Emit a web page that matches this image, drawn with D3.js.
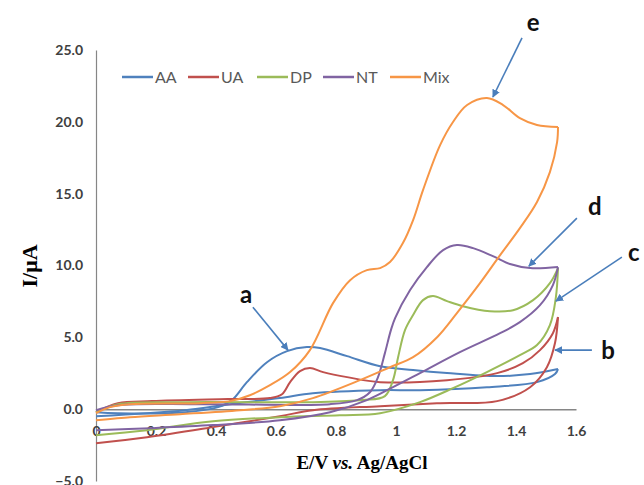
<!DOCTYPE html>
<html>
<head>
<meta charset="utf-8">
<script src="https://cdn.jsdelivr.net/npm/d3@7"></script>
<style>
  body { margin: 0; background: #fff; }
  svg { display: block; }
</style>
</head>
<body>
<script>
"use strict";
// potential E (V) / current I (uA), forward and reverse sweeps
const aaFwd = [[0,-0.21],[0.073,-0.28],[0.297,-0.21],[0.407,0.14],[0.453,0.63],[0.503,1.88],[0.57,3.27],[0.637,4.04],[0.703,4.32],[0.747,4.25],[0.837,3.69],[0.947,2.99],[1.057,2.72],[1.17,2.51],[1.337,2.30],[1.447,2.44],[1.54,2.79]];
const aaRev = [[1.54,2.79],[1.53,2.44],[1.47,1.88],[1.303,1.53],[1.08,1.32],[0.947,1.32],[0.723,1.11],[0.613,0.77],[0.447,0.35],[0.297,-0.07],[0,-0.49]];
const uaFwd = [[0,-0.21],[0.073,0.42],[0.187,0.56],[0.44,0.70],[0.58,0.77],[0.62,1.04],[0.647,1.88],[0.68,2.65],[0.713,2.86],[0.757,2.58],[0.837,2.23],[0.947,1.88],[1.17,2.02],[1.337,2.51],[1.423,3.20],[1.48,4.11],[1.523,5.29],[1.54,6.41]];
const uaRev = [[1.54,6.41],[1.53,4.60],[1.503,2.92],[1.447,1.53],[1.337,0.56],[1.147,0.42],[0.947,0.21],[0.723,-0.07],[0.613,-0.49],[0.39,-1.25],[0.17,-1.95],[0,-2.37]];
const dpFwd = [[0,-0.21],[0.073,0.35],[0.297,0.49],[0.723,0.49],[0.89,0.63],[0.963,0.91],[0.99,2.02],[1.007,3.62],[1.03,5.50],[1.057,6.55],[1.09,7.59],[1.123,7.87],[1.17,7.52],[1.223,7.17],[1.313,6.82],[1.39,6.89],[1.457,7.59],[1.513,8.77],[1.54,9.82]];
const dpRev = [[1.54,9.82],[1.533,7.80],[1.513,5.85],[1.47,4.46],[1.413,3.76],[1.303,2.58],[1.19,1.46],[1.08,0.49],[0.947,-0.28],[0.813,-0.42],[0.613,-0.56],[0.39,-0.84],[0.17,-1.46],[0,-1.81]];
const ntFwd = [[0,-0.07],[0.073,0.28],[0.347,0.35],[0.78,0.35],[0.87,0.63],[0.913,1.18],[0.94,2.23],[0.963,3.90],[0.983,5.50],[0.997,6.34],[1.047,8.29],[1.103,9.89],[1.157,11.07],[1.203,11.42],[1.257,11.21],[1.323,10.65],[1.38,10.10],[1.447,9.82],[1.54,9.89]];
const ntRev = [[1.54,9.89],[1.523,8.64],[1.48,7.24],[1.413,6.06],[1.347,5.29],[1.213,3.97],[1.08,2.51],[0.99,1.53],[0.903,0.63],[0.78,-0.21],[0.613,-0.77],[0.39,-1.11],[0.18,-1.32],[0,-1.46]];
const mixFwd = [[0,-0.28],[0.047,0.14],[0.113,0.35],[0.347,0.42],[0.447,0.56],[0.513,0.97],[0.58,1.67],[0.647,2.58],[0.713,4.11],[0.79,7.38],[0.847,8.98],[0.903,9.68],[0.947,9.82],[0.98,10.24],[1.023,11.56],[1.057,13.16],[1.09,15.25],[1.147,18.38],[1.19,19.99],[1.237,21.17],[1.303,21.66],[1.357,21.17],[1.413,20.26],[1.47,19.78],[1.54,19.64]];
const mixRev = [[1.54,19.64],[1.537,18.59],[1.513,16.5],[1.47,14.42],[1.413,12.6],[1.347,10.72],[1.28,8.77],[1.203,6.69],[1.137,5.01],[1.057,3.62],[0.98,2.92],[0.88,2.02],[0.723,0.77],[0.613,0.21],[0.48,-0.07],[0.28,-0.35],[0.113,-0.56],[0,-0.77]];

const names = ["AA", "UA", "DP", "NT", "Mix"];
const colors = ["#4f81bd", "#c0504d", "#9bbb59", "#8064a2", "#f79646"];
const sweeps = [[aaFwd, aaRev], [uaFwd, uaRev], [dpFwd, dpRev], [ntFwd, ntRev], [mixFwd, mixRev]];

const xTicks = [0, 0.2, 0.4, 0.6, 0.8, 1, 1.2, 1.4, 1.6];
const xTickLabels = ["0", "0.2", "0.4", "0.6", "0.8", "1", "1.2", "1.4", "1.6"];
const yTicks = [-5, 0, 5, 10, 15, 20, 25];

// arrow labels: label, label position, arrow tail, arrow tip (data units)
const notes = [
	["a", [0.50, 8.0], [0.523, 7.10], [0.64, 4.11]],
	["b", [1.707, 4.1], [1.653, 4.11], [1.53, 4.11]],
	["c", [1.793, 10.9], [1.753, 10.58], [1.533, 7.52]],
	["d", [1.663, 14.1], [1.603, 13.30], [1.443, 9.96]],
	["e", [1.457, 26.9], [1.42, 25.84], [1.323, 21.73]],
];

const W = 644, H = 485;
const svg = d3.select("body").append("svg").attr("width", W).attr("height", H);
const x = d3.scaleLinear().domain([0, 1.6]).range([96, 576]);
const y = d3.scaleLinear().domain([-5, 25]).range([481, 50]);

const tickFont = "Lato, 'Open Sans', sans-serif";

// y axis
const yAxis = svg.append("g").attr("transform", "translate(" + x(0) + ",0)")
	.call(d3.axisLeft(y).tickValues(yTicks).tickSize(0).tickPadding(13).tickFormat(d3.format(".1f")));
yAxis.select(".domain").attr("stroke", "#868686").attr("stroke-width", 1.2);
yAxis.selectAll("text").attr("font-family", tickFont).attr("font-size", 14).attr("font-weight", "bold").attr("fill", "#404040");

// x axis through zero
const xAxis = svg.append("g").attr("transform", "translate(0," + y(0) + ")")
	.call(d3.axisBottom(x).tickValues(xTicks).tickSize(0).tickPadding(17).tickFormat((d, i) => xTickLabels[i]));
xAxis.select(".domain").attr("stroke", "#868686").attr("stroke-width", 1.5);
xAxis.selectAll("text").attr("font-family", tickFont).attr("font-size", 14).attr("font-weight", "bold").attr("fill", "#404040");

// curves
const line = d3.line().x(d => x(d[0])).y(d => y(d[1])).curve(d3.curveCatmullRom.alpha(0.5));
sweeps.forEach((s, i) => {
	s.forEach(pts => {
		svg.append("path").attr("d", line(pts)).attr("fill", "none")
			.attr("stroke", colors[i]).attr("stroke-width", 2).attr("stroke-linejoin", "round");
	});
});

// legend
const leg = svg.append("g");
const legX = [122, 188, 257, 323, 390];
names.forEach((n, i) => {
	leg.append("line").attr("x1", legX[i]).attr("x2", legX[i] + 31).attr("y1", 77).attr("y2", 77)
		.attr("stroke", colors[i]).attr("stroke-width", 2.5);
	leg.append("text").attr("x", legX[i] + 33).attr("y", 83).text(n)
		.attr("font-family", tickFont).attr("font-size", 16).attr("fill", "#595959");
});

// axis titles
svg.append("text").attr("transform", "translate(37,266) rotate(-90)").attr("text-anchor", "middle")
	.attr("font-family", "'Liberation Serif', 'DejaVu Serif', serif").attr("font-weight", "bold").attr("font-size", 22)
	.text("I/μA");
const xt = svg.append("text").attr("x", 362).attr("y", 469).attr("text-anchor", "middle")
	.attr("font-family", "'Liberation Serif', 'DejaVu Serif', serif").attr("font-weight", "bold").attr("font-size", 19);
xt.append("tspan").text("E/V ");
xt.append("tspan").attr("font-style", "italic").text("vs.");
xt.append("tspan").text(" Ag/AgCl");

// arrows
const defs = svg.append("defs");
defs.append("marker").attr("id", "head").attr("viewBox", "0 0 10 10").attr("refX", 9).attr("refY", 5)
	.attr("markerWidth", 5).attr("markerHeight", 5).attr("orient", "auto")
	.append("path").attr("d", "M0,0L10,5L0,10z").attr("fill", "#4a7ebb");
notes.forEach(n => {
	svg.append("line").attr("x1", x(n[2][0])).attr("y1", y(n[2][1])).attr("x2", x(n[3][0])).attr("y2", y(n[3][1]))
		.attr("stroke", "#4a7ebb").attr("stroke-width", 1.6).attr("marker-end", "url(#head)");
	svg.append("text").attr("x", x(n[1][0])).attr("y", y(n[1][1])).attr("text-anchor", "middle").attr("dy", "0.35em")
		.attr("font-family", tickFont).attr("font-weight", "bold").attr("font-size", 24).attr("fill", "#111")
		.text(n[0]);
});
</script>
</body>
</html>
